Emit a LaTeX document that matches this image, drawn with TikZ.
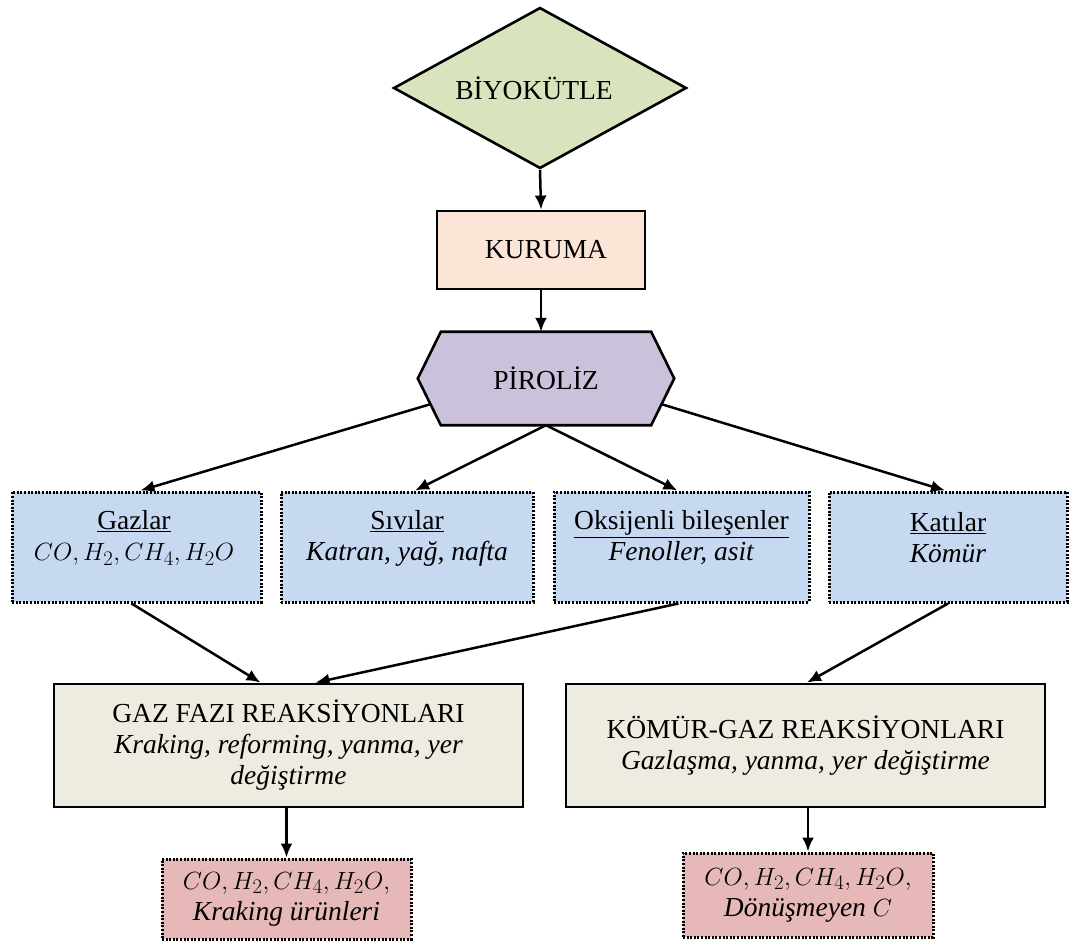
\documentclass[tikz,border=0pt]{standalone}
\usepackage{fontspec}
\setmainfont{Liberation Serif}[ItalicFont={Liberation Serif Italic}]
\usetikzlibrary{shapes.geometric,arrows.meta,calc}

\definecolor{bioGreen}{HTML}{D7E4BD}
\definecolor{dryPeach}{HTML}{FBE5D6}
\definecolor{pyroLav}{HTML}{CCC1DA}
\definecolor{prodBlue}{HTML}{C6D9F1}
\definecolor{reacBeige}{HTML}{EEECE1}
\definecolor{outPink}{HTML}{E6B9B8}

\begin{document}
\begin{tikzpicture}[x=1pt,y=-1pt,
  every node/.style={font=\fontsize{27.5}{31}\selectfont, text=black},
  conn/.style={line width=2.5pt,-{Latex[length=14pt,width=12pt]}},
  solidbox/.style={draw,line width=2.8pt,rectangle,inner sep=0pt},
  dotbox/.style={draw,line width=3pt,dash pattern=on 2pt off 1.6pt,rectangle,inner sep=0pt},
  txt/.style={align=center,inner sep=0pt}
  ]
\useasboundingbox (0,0) rectangle (1073,949);

% --- top chain: biomass, drying, pyrolysis
\node[diamond,draw,line width=2.6pt,fill=bioGreen,aspect=1.83,inner sep=0pt,
      minimum width=293pt,minimum height=161pt] (bio) at (540,88) {};
\node[txt] (bioT) at (534,88) {BİYOKÜTLE};

\node[solidbox,fill=dryPeach,minimum width=208pt,minimum height=78pt] (dry) at (541,250)
  {\hspace{10pt}KURUMA};

\node[inner sep=0pt,minimum width=256pt,minimum height=93pt] (pir) at (546,378.5) {};
\draw[line width=2.6pt,fill=pyroLav]
  (pir.west) -- ($(pir.north west)+(23,0)$) -- ($(pir.north east)+(-23,0)$)
  -- (pir.east) -- ($(pir.south east)+(-23,0)$) -- ($(pir.south west)+(23,0)$) -- cycle;
\node[txt] (pirT) at (pir) {PİROLİZ};
\coordinate (pl) at ($(pir.west)!0.55!($(pir.south west)+(23,0)$)$);
\coordinate (pr) at ($(pir.east)!0.55!($(pir.south east)+(-23,0)$)$);

% --- pyrolysis products
\node[dotbox,fill=prodBlue,minimum width=249pt,minimum height=110pt] (gaz) at (136.5,547) {};
\node[dotbox,fill=prodBlue,minimum width=252pt,minimum height=110pt] (siv) at (407,547) {};
\node[dotbox,fill=prodBlue,minimum width=255pt,minimum height=110pt] (oks) at (681.5,547) {};
\node[dotbox,fill=prodBlue,minimum width=238pt,minimum height=110pt] (kat) at (948,547) {};

\node[txt] (gazT) at (134,538) {\underline{Gazlar}\\$CO,H_2,CH_4,H_2O$};
\node[txt] (sivT) at (407,538) {\underline{Sıvılar}\\\textit{Katran, yağ, nafta}};
\node[txt] (oksT) at (681.5,538) {\underline{Oksijenli bileşenler}\\\textit{Fenoller, asit}};
\node[txt] (katT) at (948,538) {\underline{Katılar}\\\textit{Kömür}};

% --- reaction stages
\node[solidbox,fill=reacBeige,minimum width=469pt,minimum height=123pt,align=center] (gf) at (288.5,745.5)
  {GAZ FAZI REAKSİYONLARI\\\textit{Kraking, reforming, yanma, yer}\\\textit{değiştirme}};
\node[solidbox,fill=reacBeige,minimum width=479pt,minimum height=123pt,align=center] (kg) at (805.5,745.5)
  {KÖMÜR-GAZ REAKSİYONLARI\\\textit{Gazlaşma, yanma, yer değiştirme}};

% --- final outputs
\node[dotbox,fill=outPink,minimum width=249pt,minimum height=80pt,align=center] (out1) at (286.5,899)
  {$CO,H_2,CH_4,H_2O,$\\\textit{Kraking ürünleri}};
\node[dotbox,fill=outPink,minimum width=250pt,minimum height=84pt,align=center] (out2) at (808,895)
  {$CO,H_2,CH_4,H_2O,$\\\textit{Dönüşmeyen} $C$};

% --- connectors
\draw[conn] (bio.south) -- (dry.north);
\draw[conn] (dry.south) -- (dry.south |- pir.north);
\draw[conn] (pl) -- ([xshift=4pt]gaz.north);
\draw[conn] (pir.south) -- ([xshift=8pt]siv.north);
\draw[conn] (pir.south) -- ([xshift=-4pt]oks.north);
\draw[conn] (pr) -- ([xshift=-3pt]kat.north);
\draw[conn] ([xshift=-5pt]gaz.south) -- ([xshift=-28pt]gf.north);
\draw[conn] ([xshift=-3pt]oks.south) -- ([xshift=27pt]gf.north);
\draw[conn] (kat.south) -- ([xshift=1.5pt]kg.north);
\draw[conn] (out1.north |- gf.south) -- (out1.north);
\draw[conn] (out2.north |- kg.south) -- (out2.north);
\end{tikzpicture}
\end{document}
